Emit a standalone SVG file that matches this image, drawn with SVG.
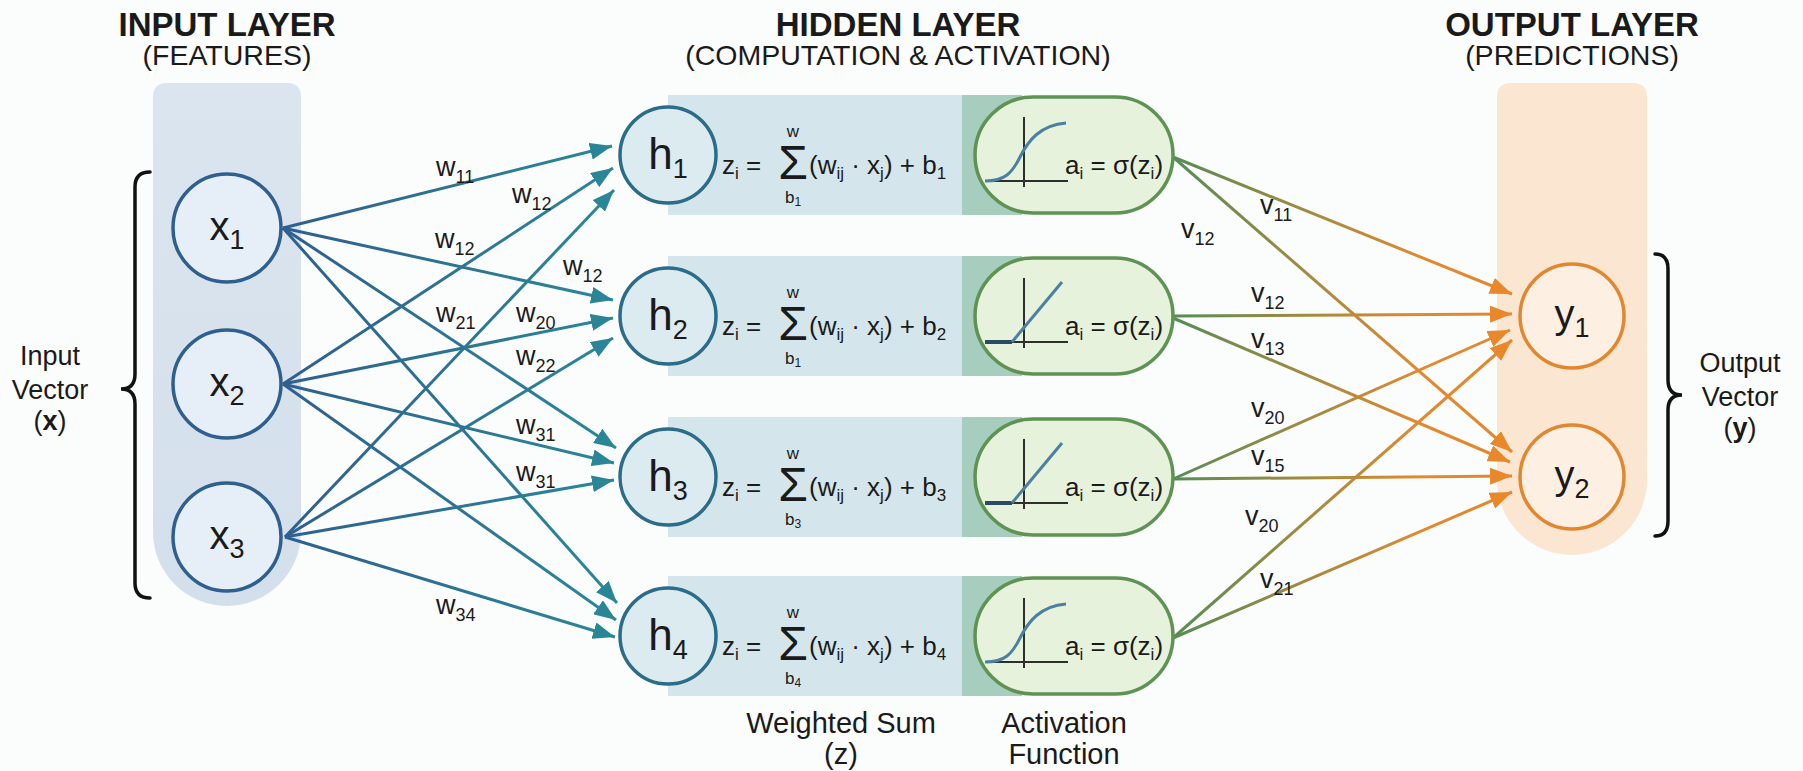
<svg xmlns="http://www.w3.org/2000/svg" width="1803" height="771" viewBox="0 0 1803 771">
<defs>
<style>
text{font-family:"Liberation Sans",Arial,sans-serif;fill:#1a1a1a}
.t{font-size:33px;font-weight:bold;text-anchor:middle}
.st{font-size:28.5px;text-anchor:middle}
.side{font-size:27px;text-anchor:middle}
.nl{font-size:40px;text-anchor:middle}
.nls{font-size:27px}
.hl{font-size:44px;text-anchor:middle}
.wl{font-size:27px}
.wls{font-size:18px}
.f{font-size:26px}
.fs{font-size:17px}
.lim{font-size:17px;text-anchor:middle}
.sig{font-size:48px;text-anchor:middle}
.bl{font-size:29px;text-anchor:middle}
.xn{fill:#e6eef7;stroke:#2f5f8e;stroke-width:3.5}
.hn{fill:#dcebf0;stroke:#2b6c88;stroke-width:3.5}
.yn{fill:#fdf0e2;stroke:#e0872f;stroke-width:3.5}
.band{fill:#d4e6eb}
.dark{fill:#a7cdbf}
.pill{fill:#e7f2dc;stroke:#5e9353;stroke-width:3.5}
.ax{stroke:#2e2e2e;stroke-width:2;fill:none}
.sg{stroke:#4a80a0;stroke-width:3;fill:none}
.in{stroke:url(#gin);stroke-width:3;fill:none;marker-end:url(#ain)}
.out{stroke:url(#gout);stroke-width:3;fill:none;marker-end:url(#aout)}
.br{stroke:#111;stroke-width:3.5;fill:none;stroke-linecap:round}
</style>
<linearGradient id="gin" gradientUnits="userSpaceOnUse" x1="285" y1="0" x2="615" y2="0">
<stop offset="0" stop-color="#2f5f8f"/><stop offset="1" stop-color="#2a8898"/>
</linearGradient>
<linearGradient id="gout" gradientUnits="userSpaceOnUse" x1="1180" y1="0" x2="1420" y2="0">
<stop offset="0" stop-color="#5a8c55"/><stop offset="1" stop-color="#e2892f"/>
</linearGradient>
<linearGradient id="gcolin" x1="0" y1="0" x2="0" y2="1">
<stop offset="0" stop-color="#dbe5ef"/><stop offset="1" stop-color="#d3dfeb"/>
</linearGradient>
<marker id="ain" markerUnits="userSpaceOnUse" markerWidth="22" markerHeight="17" refX="22" refY="8.5" orient="auto">
<path d="M0,0 L22,8.5 L0,17 Z" fill="#2a8696"/>
</marker>
<marker id="aout" markerUnits="userSpaceOnUse" markerWidth="22" markerHeight="17" refX="22" refY="8.5" orient="auto">
<path d="M0,0 L22,8.5 L0,17 Z" fill="#e8882a"/>
</marker>
</defs>
<rect x="0" y="0" width="1803" height="771" fill="#fbfcfc"/>

<g id="titles">
<text class="t" x="227" y="36">INPUT LAYER</text>
<text class="st" x="227" y="65">(FEATURES)</text>
<text class="t" x="898" y="36">HIDDEN LAYER</text>
<text class="st" x="898" y="65">(COMPUTATION &amp; ACTIVATION)</text>
<text class="t" x="1572" y="36">OUTPUT LAYER</text>
<text class="st" x="1572" y="65">(PREDICTIONS)</text>
</g>

<g id="input-column">
<path d="M167,83 H287 Q301,83 301,97 V532 A74,74 0 0 1 153,532 V97 Q153,83 167,83 Z" fill="url(#gcolin)"/>
</g>
<g id="output-column">
<path d="M1511,83 H1633 Q1647,83 1647,97 V480 A75,75 0 0 1 1497,480 V97 Q1497,83 1511,83 Z" fill="#fbe6d1"/>
</g>

<g id="input-bracket">
<path class="br" d="M150,172 Q135,172 135,187 V374 Q135,389 121,389 Q135,389 135,404 V583 Q135,598 150,598"/>
<text class="side" x="50" y="365">Input</text>
<text class="side" x="50" y="399">Vector</text>
<text class="side" x="50" y="430">(<tspan font-weight="bold">x</tspan>)</text>
</g>
<g id="output-bracket">
<path class="br" d="M1655,254 Q1668,254 1668,269 V380 Q1668,395 1682,395 Q1668,395 1668,410 V521 Q1668,536 1655,536"/>
<text class="side" x="1740" y="372">Output</text>
<text class="side" x="1740" y="406">Vector</text>
<text class="side" x="1740" y="437">(<tspan font-weight="bold">y</tspan>)</text>
</g>

<g id="hidden-bands">
<rect class="band" x="668" y="95" width="302" height="120"/>
<rect class="dark" x="962" y="95" width="60" height="120"/>
<rect class="band" x="668" y="256" width="302" height="120"/>
<rect class="dark" x="962" y="256" width="60" height="120"/>
<rect class="band" x="668" y="417" width="302" height="120"/>
<rect class="dark" x="962" y="417" width="60" height="120"/>
<rect class="band" x="668" y="576" width="302" height="120"/>
<rect class="dark" x="962" y="576" width="60" height="120"/>
</g>

<g id="connectors">
<path class="in" d="M283,228 L612,146"/>
<path class="in" d="M283,384 L613,168"/>
<path class="in" d="M285,537 L614,190"/>
<path class="in" d="M283,228 L613,300"/>
<path class="in" d="M283,384 L613,318"/>
<path class="in" d="M285,537 L613,338"/>
<path class="in" d="M283,228 L616,448"/>
<path class="in" d="M283,384 L614,463"/>
<path class="in" d="M285,537 L614,480"/>
<path class="in" d="M283,228 L617,603"/>
<path class="in" d="M283,384 L616,620"/>
<path class="in" d="M285,537 L615,637"/>
<path class="out" d="M1173,157 L1512,294"/>
<path class="out" d="M1173,157 L1512,452"/>
<path class="out" d="M1173,316 L1512,314"/>
<path class="out" d="M1173,318 L1510,462"/>
<path class="out" d="M1173,479 L1510,330"/>
<path class="out" d="M1173,479 L1512,476"/>
<path class="out" d="M1173,638 L1512,340"/>
<path class="out" d="M1173,638 L1512,492"/>
</g>

<g id="weight-labels">
<text class="wl" x="436" y="176">w<tspan class="wls" dy="7">11</tspan></text>
<text class="wl" x="512" y="203">w<tspan class="wls" dy="7">12</tspan></text>
<text class="wl" x="435" y="248">w<tspan class="wls" dy="7">12</tspan></text>
<text class="wl" x="563" y="275">w<tspan class="wls" dy="7">12</tspan></text>
<text class="wl" x="436" y="322">w<tspan class="wls" dy="7">21</tspan></text>
<text class="wl" x="516" y="322">w<tspan class="wls" dy="7">20</tspan></text>
<text class="wl" x="516" y="365">w<tspan class="wls" dy="7">22</tspan></text>
<text class="wl" x="516" y="434">w<tspan class="wls" dy="7">31</tspan></text>
<text class="wl" x="516" y="481">w<tspan class="wls" dy="7">31</tspan></text>
<text class="wl" x="436" y="614">w<tspan class="wls" dy="7">34</tspan></text>
<text class="wl" x="1260" y="214">v<tspan class="wls" dy="7">11</tspan></text>
<text class="wl" x="1181" y="238">v<tspan class="wls" dy="7">12</tspan></text>
<text class="wl" x="1251" y="302">v<tspan class="wls" dy="7">12</tspan></text>
<text class="wl" x="1251" y="348">v<tspan class="wls" dy="7">13</tspan></text>
<text class="wl" x="1251" y="417">v<tspan class="wls" dy="7">20</tspan></text>
<text class="wl" x="1251" y="465">v<tspan class="wls" dy="7">15</tspan></text>
<text class="wl" x="1245" y="525">v<tspan class="wls" dy="7">20</tspan></text>
<text class="wl" x="1260" y="588">v<tspan class="wls" dy="7">21</tspan></text>
</g>

<g id="x1"><circle class="xn" cx="227" cy="228" r="54"/><text class="nl" x="227" y="240">x<tspan class="nls" dy="9">1</tspan></text></g>
<g id="x2"><circle class="xn" cx="227" cy="384" r="54"/><text class="nl" x="227" y="396">x<tspan class="nls" dy="9">2</tspan></text></g>
<g id="x3"><circle class="xn" cx="227" cy="537" r="54"/><text class="nl" x="227" y="549">x<tspan class="nls" dy="9">3</tspan></text></g>

<g id="h1">
<circle class="hn" cx="668" cy="155" r="48"/>
<text class="hl" x="668" y="169">h<tspan class="nls" dy="9" font-size="29">1</tspan></text>
<text class="f" x="722" y="174">z<tspan class="fs" dy="5">i</tspan><tspan dy="-5"> =</tspan></text>
<text class="lim" x="793" y="137">w</text>
<text class="sig" x="793" y="179">Σ</text>
<text class="lim" x="793" y="203">b<tspan font-size="12" dy="3">1</tspan></text>
<text class="f" x="809" y="174">(w<tspan class="fs" dy="5">ij</tspan><tspan dy="-5"> · x</tspan><tspan class="fs" dy="5">j</tspan><tspan dy="-5">) + b</tspan><tspan class="fs" dy="5">1</tspan></text>
</g>
<g id="a1">
<rect class="pill" x="975" y="97" width="198" height="116" rx="58"/>
<path class="ax" d="M1024,117 V187 M985,181 H1068"/>
<path class="sg" d="M985,181 C1005,181 1012,173 1020,157 S1040,125 1066,123"/>
<text class="f" x="1065" y="174">a<tspan class="fs" dy="5">i</tspan><tspan dy="-5"> = σ(z</tspan><tspan class="fs" dy="5">i</tspan><tspan dy="-5">)</tspan></text>
</g>

<g id="h2">
<circle class="hn" cx="668" cy="316" r="48"/>
<text class="hl" x="668" y="330">h<tspan class="nls" dy="9" font-size="29">2</tspan></text>
<text class="f" x="722" y="335">z<tspan class="fs" dy="5">i</tspan><tspan dy="-5"> =</tspan></text>
<text class="lim" x="793" y="298">w</text>
<text class="sig" x="793" y="340">Σ</text>
<text class="lim" x="793" y="364">b<tspan font-size="12" dy="3">1</tspan></text>
<text class="f" x="809" y="335">(w<tspan class="fs" dy="5">ij</tspan><tspan dy="-5"> · x</tspan><tspan class="fs" dy="5">j</tspan><tspan dy="-5">) + b</tspan><tspan class="fs" dy="5">2</tspan></text>
</g>
<g id="a2">
<rect class="pill" x="975" y="258" width="198" height="116" rx="58"/>
<path class="ax" d="M1024,278 V348 M985,342 H1068"/>
<path d="M985,342 H1012" stroke="#2c4a63" stroke-width="4" fill="none"/>
<path class="sg" d="M1012,342 L1062,282"/>
<text class="f" x="1065" y="335">a<tspan class="fs" dy="5">i</tspan><tspan dy="-5"> = σ(z</tspan><tspan class="fs" dy="5">i</tspan><tspan dy="-5">)</tspan></text>
</g>

<g id="h3">
<circle class="hn" cx="668" cy="477" r="48"/>
<text class="hl" x="668" y="491">h<tspan class="nls" dy="9" font-size="29">3</tspan></text>
<text class="f" x="722" y="496">z<tspan class="fs" dy="5">i</tspan><tspan dy="-5"> =</tspan></text>
<text class="lim" x="793" y="459">w</text>
<text class="sig" x="793" y="501">Σ</text>
<text class="lim" x="793" y="525">b<tspan font-size="12" dy="3">3</tspan></text>
<text class="f" x="809" y="496">(w<tspan class="fs" dy="5">ij</tspan><tspan dy="-5"> · x</tspan><tspan class="fs" dy="5">j</tspan><tspan dy="-5">) + b</tspan><tspan class="fs" dy="5">3</tspan></text>
</g>
<g id="a3">
<rect class="pill" x="975" y="419" width="198" height="116" rx="58"/>
<path class="ax" d="M1024,439 V509 M985,503 H1068"/>
<path d="M985,503 H1012" stroke="#2c4a63" stroke-width="4" fill="none"/>
<path class="sg" d="M1012,503 L1062,443"/>
<text class="f" x="1065" y="496">a<tspan class="fs" dy="5">i</tspan><tspan dy="-5"> = σ(z</tspan><tspan class="fs" dy="5">i</tspan><tspan dy="-5">)</tspan></text>
</g>

<g id="h4">
<circle class="hn" cx="668" cy="636" r="48"/>
<text class="hl" x="668" y="650">h<tspan class="nls" dy="9" font-size="29">4</tspan></text>
<text class="f" x="722" y="655">z<tspan class="fs" dy="5">i</tspan><tspan dy="-5"> =</tspan></text>
<text class="lim" x="793" y="618">w</text>
<text class="sig" x="793" y="660">Σ</text>
<text class="lim" x="793" y="684">b<tspan font-size="12" dy="3">4</tspan></text>
<text class="f" x="809" y="655">(w<tspan class="fs" dy="5">ij</tspan><tspan dy="-5"> · x</tspan><tspan class="fs" dy="5">j</tspan><tspan dy="-5">) + b</tspan><tspan class="fs" dy="5">4</tspan></text>
</g>
<g id="a4">
<rect class="pill" x="975" y="578" width="198" height="116" rx="58"/>
<path class="ax" d="M1024,598 V668 M985,662 H1068"/>
<path class="sg" d="M985,662 C1005,662 1012,654 1020,638 S1040,606 1066,604"/>
<text class="f" x="1065" y="655">a<tspan class="fs" dy="5">i</tspan><tspan dy="-5"> = σ(z</tspan><tspan class="fs" dy="5">i</tspan><tspan dy="-5">)</tspan></text>
</g>

<g id="y1"><circle class="yn" cx="1572" cy="316" r="52"/><text class="nl" x="1572" y="328">y<tspan class="nls" dy="9">1</tspan></text></g>
<g id="y2"><circle class="yn" cx="1572" cy="477" r="52"/><text class="nl" x="1572" y="489">y<tspan class="nls" dy="9">2</tspan></text></g>

<g id="bottom-labels">
<text class="bl" x="841" y="733">Weighted Sum</text>
<text class="bl" x="841" y="764">(z)</text>
<text class="bl" x="1064" y="733">Activation</text>
<text class="bl" x="1064" y="764">Function</text>
</g>
</svg>
